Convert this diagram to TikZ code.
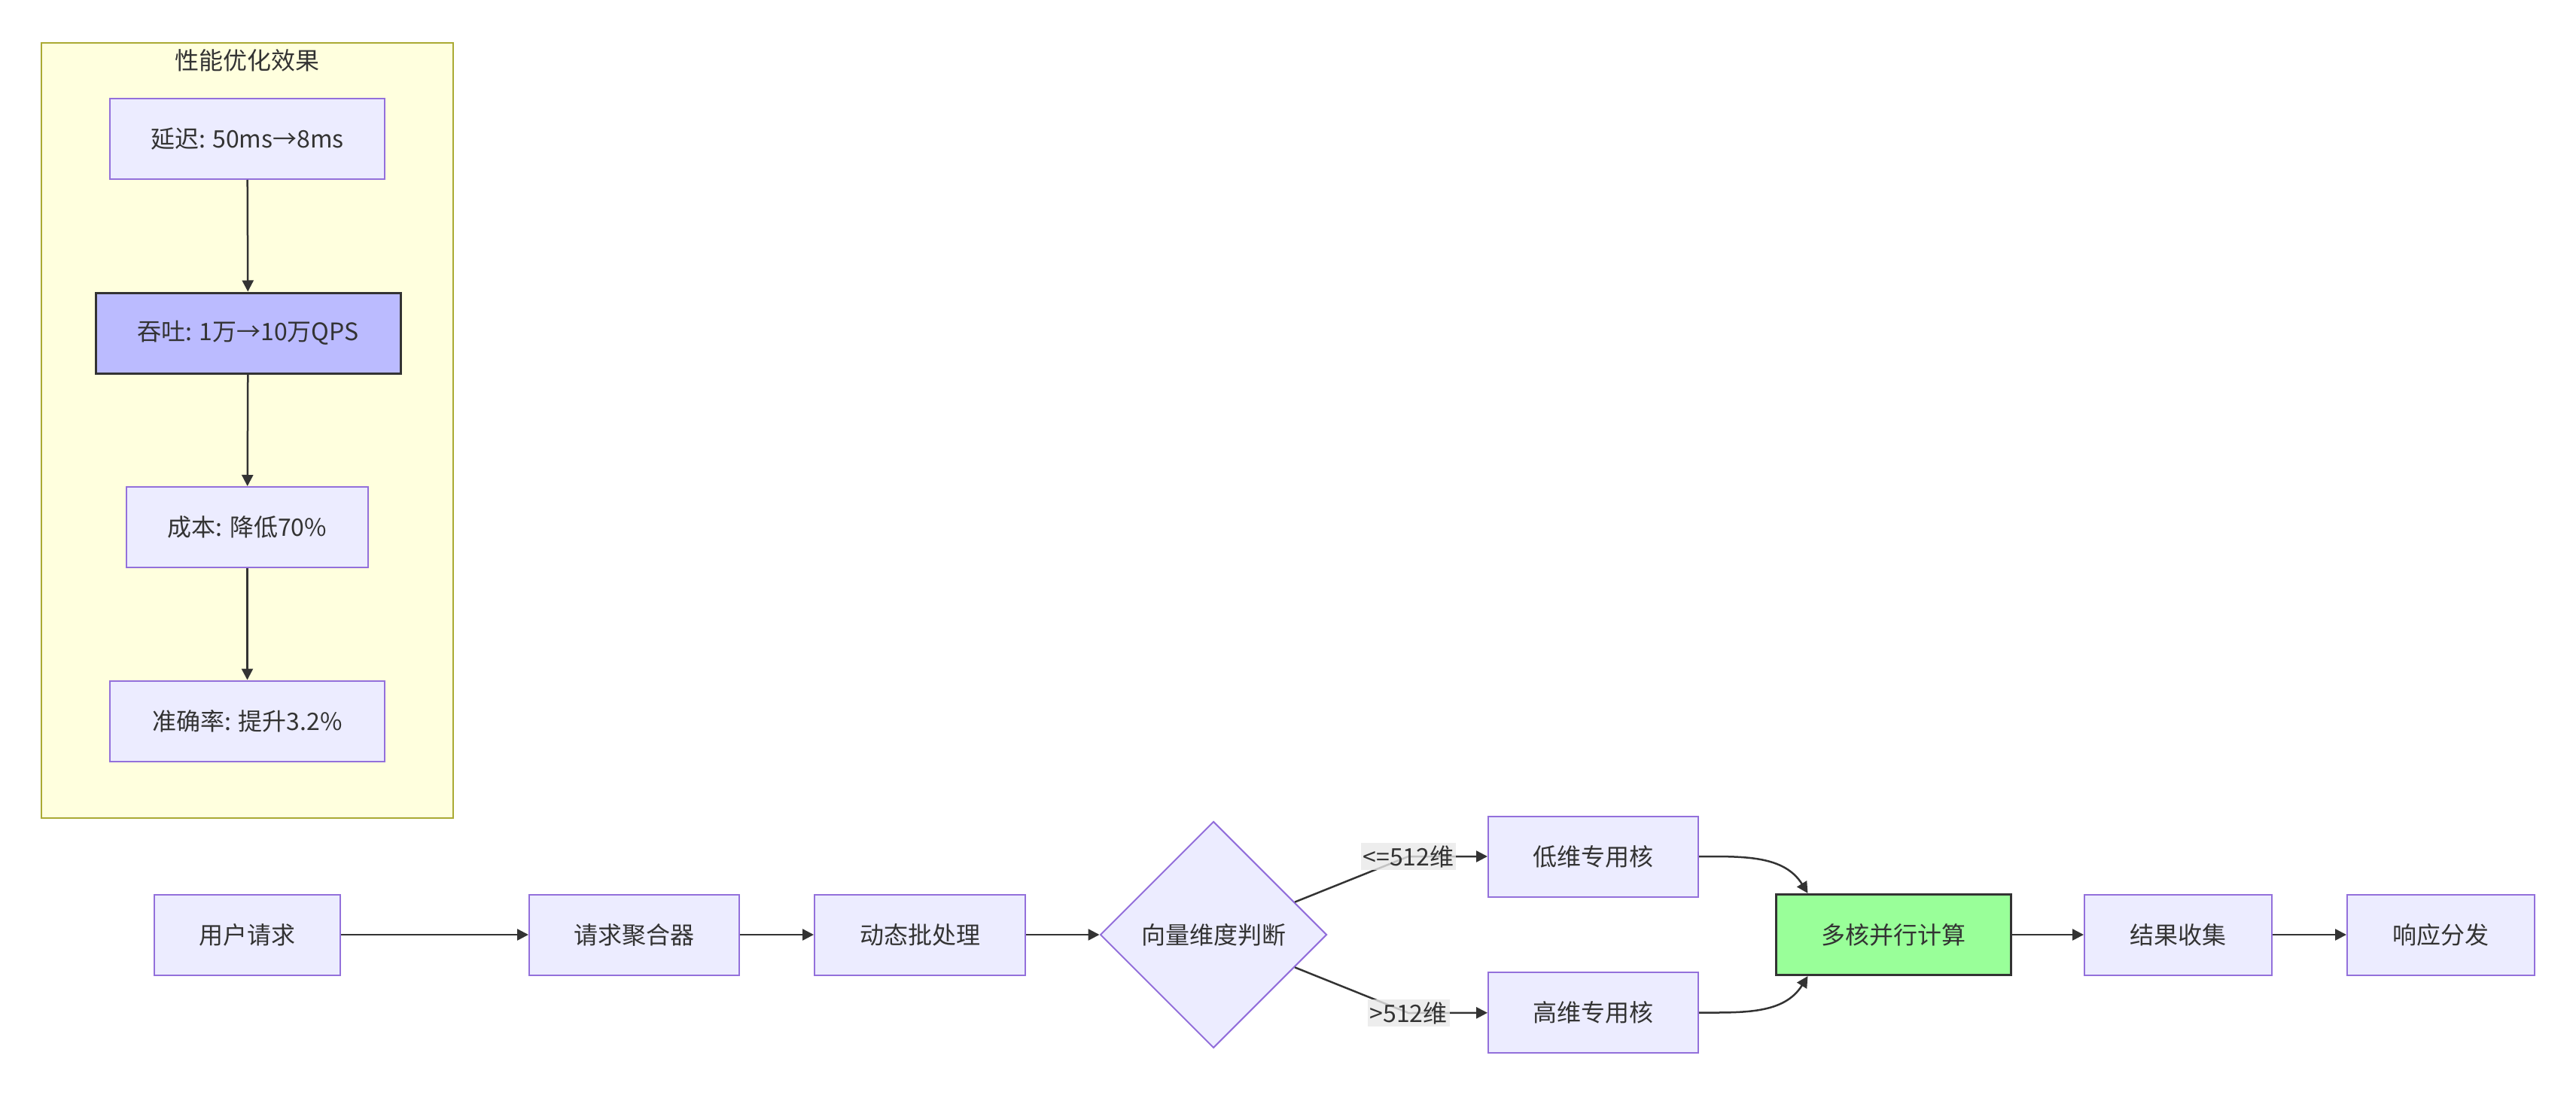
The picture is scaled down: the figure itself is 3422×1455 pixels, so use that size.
\documentclass[tikz,border=0pt]{standalone}
\usepackage{fontspec}
\setmainfont{Noto Sans CJK SC}
\usetikzlibrary{arrows.meta, positioning, shapes.geometric, backgrounds, calc}
\definecolor{nodefill}{HTML}{ECECFF}
\definecolor{nodeline}{HTML}{9370DB}
\definecolor{grpfill}{HTML}{FFFFDE}
\definecolor{grpline}{HTML}{AAAA33}
\definecolor{inkgray}{HTML}{333333}
\definecolor{lblfill}{HTML}{E8E8E8}
\definecolor{hotfill}{HTML}{BBBBFF}
\definecolor{okfill}{HTML}{99FF99}

\begin{document}
\begin{tikzpicture}[x=1pt, y=-1pt,
  font=\fontsize{32}{40}\selectfont, text=inkgray,
  box/.style={rectangle, draw=nodeline, line width=2pt, fill=nodefill,
    minimum height=107pt, align=center},
  hot/.style={box, draw=inkgray, line width=3pt, fill=hotfill},
  done/.style={box, draw=inkgray, line width=3pt, fill=okfill},
  choice/.style={diamond, draw=nodeline, line width=2pt, fill=nodefill,
    minimum width=301pt, minimum height=301pt, inner sep=0pt},
  grp/.style={rectangle, draw=grpline, line width=2pt, fill=grpfill,
    minimum width=547pt, minimum height=1030pt},
  arr/.style={-{Triangle[length=15pt, width=15pt]}, draw=inkgray, line width=2.5pt},
  lbl/.style={fill=lblfill, fill opacity=0.8, text opacity=1, inner sep=3pt}
]
\useasboundingbox (0,0) rectangle (3422,1455);

% performance group
\node[grp] (gain) at (328.5,572) {};
\node (gaintitle) at (328.5,80) {性能优化效果};
\node[box, minimum width=365pt] (lat) at (328.5,184.5) {延迟: 50ms→8ms};
\node[hot, minimum width=405pt] (thr) at (329.5,442.5) {吞吐: 1万→10万QPS};
\node[box, minimum width=321pt] (cost) at (328.5,700.5) {成本: 降低70\%};
\node[box, minimum width=365pt] (acc) at (328.5,958) {准确率: 提升3.2\%};
\draw[arr] (lat) -- (thr);
\draw[arr] (thr) -- (cost);
\draw[arr] (cost) -- (acc);

% request pipeline
\node[box, minimum width=247pt] (user) at (328.5,1242) {用户请求};
\node[box, minimum width=279pt] (agg) at (842.5,1242) {请求聚合器};
\node[box, minimum width=280pt] (batch) at (1222,1242) {动态批处理};
\node[choice] (dim) at (1612,1242) {向量维度判断};
\node[box, minimum width=279pt] (low) at (2116.5,1138) {低维专用核};
\node[box, minimum width=279pt] (high) at (2116.5,1345.5) {高维专用核};
\node[done, minimum width=312pt] (multi) at (2515,1242) {多核并行计算};
\node[box, minimum width=249pt] (collect) at (2893.5,1242) {结果收集};
\node[box, minimum width=249pt] (reply) at (3242.5,1242) {响应分发};

\coordinate (lowpt) at (1871,1138);
\coordinate (highpt) at (1871,1346);
\coordinate (mtop) at ($(multi.north west)+(44,0)$);
\coordinate (mbot) at ($(multi.south west)+(44,0)$);

\draw[arr] (user) -- (agg);
\draw[arr] (agg) -- (batch);
\draw[arr] (batch) -- (dim);
\draw[arr] (dim) -- (lowpt) -- (low);
\draw[arr] (dim) -- (highpt) -- (high);
\node[lbl] (lowlbl) at (lowpt) {<=512维};
\node[lbl] (highlbl) at (highpt) {>512维};
\draw[arr] (low) to[out=0, in=122] (mtop);
\draw[arr] (high) to[out=0, in=238] (mbot);
\draw[arr] (multi) -- (collect);
\draw[arr] (collect) -- (reply);
\end{tikzpicture}
\end{document}
